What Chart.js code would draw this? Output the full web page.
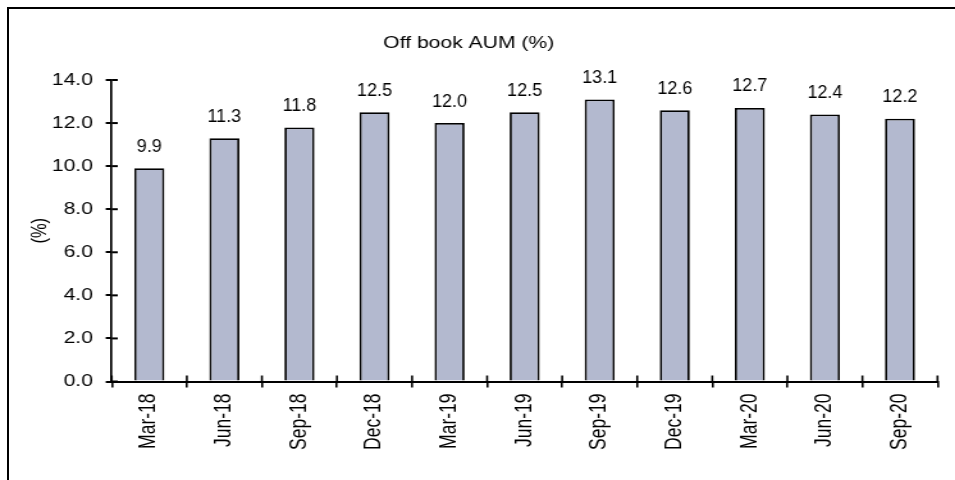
<!DOCTYPE html>
<html>
<head>
<meta charset="utf-8">
<script src="https://cdn.jsdelivr.net/npm/chart.js@4"></script>
<style>
  html, body {
    margin: 0;
    padding: 0;
    background: #fff;
    overflow: hidden;
  }
  .frame {
    position: absolute;
    left: 7px;
    top: 7px;
    right: 0;
    bottom: 0;
    border-top: 2px solid #000;
    border-left: 2px solid #000;
    pointer-events: none;
  }
  /* reference is stretched horizontally, so draw narrower and scale */
  .stretch {
    position: absolute;
    left: 0;
    top: 0;
    width: 746px;
    height: 480px;
    transform: scaleX(1.2802);
    transform-origin: 0 0;
  }
</style>
</head>
<body>
<div class="stretch">
  <canvas id="aumChart" width="746" height="480"></canvas>
</div>
<div class="frame"></div>

<script>
  const quarters = [
    "Mar-18", "Jun-18", "Sep-18", "Dec-18", "Mar-19", "Jun-19",
    "Sep-19", "Dec-19", "Mar-20", "Jun-20", "Sep-20",
  ];
  const offBookAum = [9.9, 11.3, 11.8, 12.5, 12.0, 12.5, 13.1, 12.6, 12.7, 12.4, 12.2];
  const yTicks = [0, 2, 4, 6, 8, 10, 12, 14];

  const FONT = "'Liberation Sans', Arial, sans-serif";
  const STRETCH = 1.2802;

  // value labels above each bar (not stretched in the reference)
  const valueLabels = {
    id: "valueLabels",
    afterDatasetsDraw(chart) {
      const ctx = chart.ctx;
      const meta = chart.getDatasetMeta(0);
      ctx.save();
      ctx.font = "18px " + FONT;
      ctx.fillStyle = "#000";
      ctx.textAlign = "center";
      ctx.textBaseline = "alphabetic";
      meta.data.forEach((bar, i) => {
        ctx.save();
        ctx.translate(bar.x, bar.y - 16.5);
        ctx.scale(1 / STRETCH, 1);
        ctx.fillText(offBookAum[i].toFixed(1), 0, 0);
        ctx.restore();
      });
      ctx.restore();
    },
  };

  // tick marks that cross into the plot area as well
  const innerTicks = {
    id: "innerTicks",
    afterDatasetsDraw(chart) {
      const ctx = chart.ctx;
      const x = chart.scales.x;
      const y = chart.scales.y;
      ctx.save();
      ctx.strokeStyle = "#000";

      ctx.lineWidth = 2;
      y.ticks.forEach((t) => {
        const py = y.getPixelForValue(t.value);
        ctx.beginPath();
        ctx.moveTo(y.right, py);
        ctx.lineTo(y.right + 4.7, py);
        ctx.stroke();
      });

      ctx.lineWidth = 1.6;
      for (let i = 0; i <= quarters.length; i++) {
        const px = x.getPixelForValue(i - 0.5);
        ctx.beginPath();
        ctx.moveTo(px, x.top);
        ctx.lineTo(px, x.top - 6);
        ctx.stroke();
      }
      ctx.restore();
    },
  };

  const ctx = document.getElementById("aumChart").getContext("2d");

  new Chart(ctx, {
    type: "bar",
    data: {
      labels: quarters,
      datasets: [
        {
          label: "Off book AUM (%)",
          data: offBookAum,
          backgroundColor: "#B3B9CF",
          borderColor: "#000",
          borderWidth: 1.8,
          barPercentage: 0.4,
          categoryPercentage: 1.0,
        },
      ],
    },
    options: {
      responsive: false,
      animation: false,
      layout: {
        padding: { left: 0, right: 13.7, top: 0, bottom: 0 },
      },
      plugins: {
        legend: { display: false },
        tooltip: { enabled: false },
        title: {
          display: true,
          text: "Off book AUM (%)",
          color: "#000",
          font: { family: FONT, size: 16.5, weight: "normal" },
          padding: { top: 34, bottom: 26.2 },
        },
      },
      scales: {
        x: {
          afterFit(scale) {
            scale.height = 98.5;
          },
          border: { color: "#000", width: 2 },
          grid: {
            offset: true,
            drawOnChartArea: false,
            tickLength: 6,
            color: "#000",
            lineWidth: 1.6,
          },
          ticks: {
            color: "#000",
            font: { family: FONT, size: 17.5 },
            minRotation: 90,
            maxRotation: 90,
            autoSkip: false,
            padding: 6,
          },
        },
        y: {
          min: 0,
          max: 14,
          afterFit(scale) {
            scale.width = 87.3;
          },
          afterBuildTicks(scale) {
            scale.ticks = yTicks.map((v) => ({ value: v }));
          },
          border: { color: "#000", width: 1.7 },
          grid: {
            drawOnChartArea: false,
            tickLength: 4.7,
            color: "#000",
            lineWidth: 2,
          },
          ticks: {
            color: "#000",
            font: { family: FONT, size: 16.5 },
            padding: 10,
            callback: (v) => Number(v).toFixed(1),
          },
          title: {
            display: true,
            text: "(%)",
            color: "#000",
            font: { family: FONT, size: 16.5 },
            padding: { top: 21.4, bottom: 0 },
          },
        },
      },
    },
    plugins: [valueLabels, innerTicks],
  });
</script>
</body>
</html>
